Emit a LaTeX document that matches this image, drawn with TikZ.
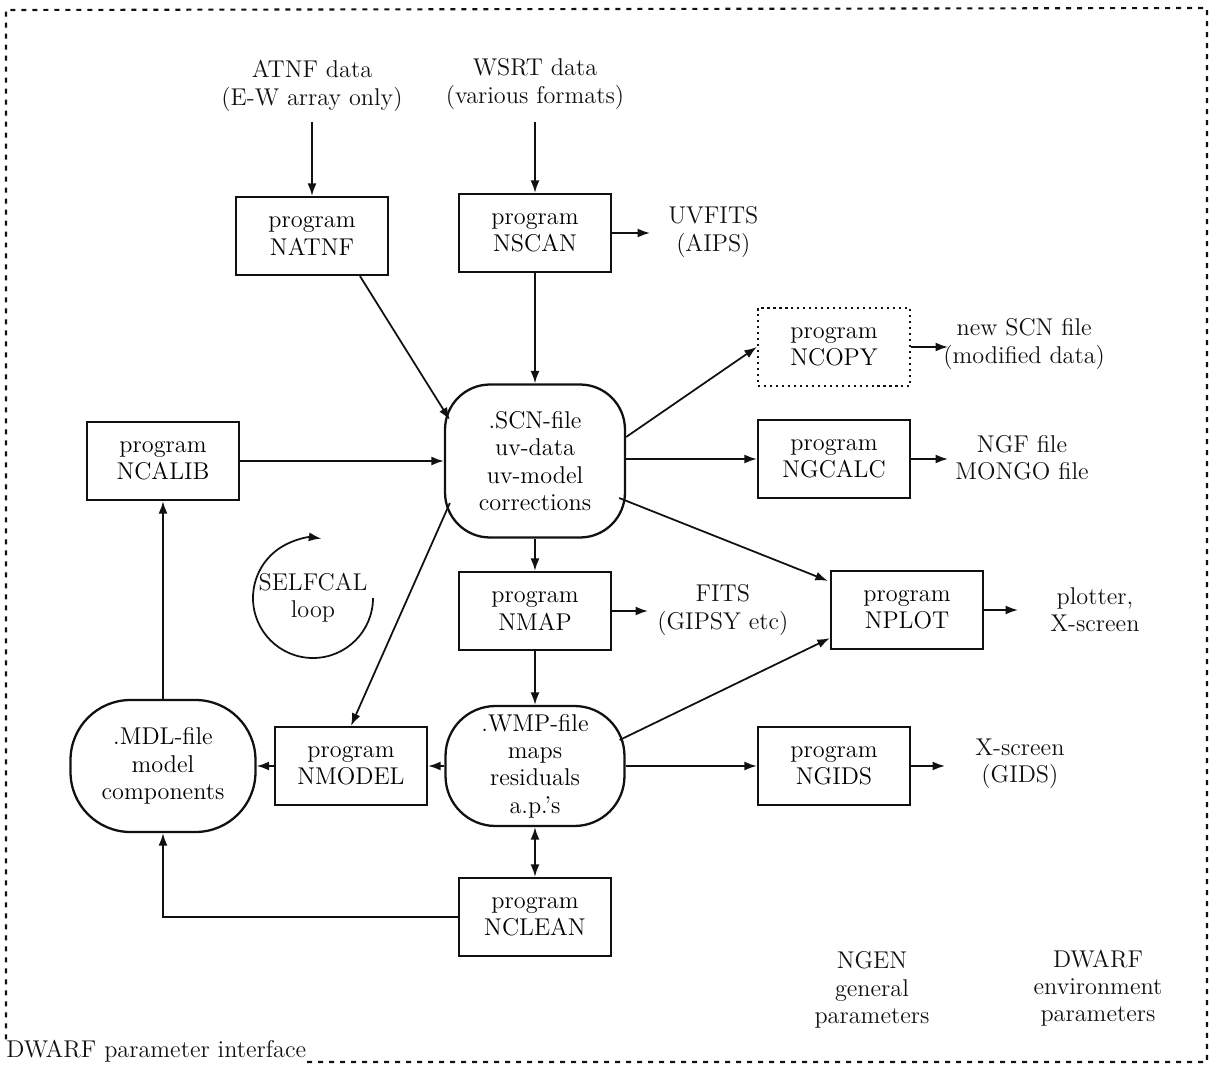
\documentclass[tikz,border=0pt]{standalone}
\usepackage{tikz}
\usetikzlibrary{arrows.meta,positioning,calc}
\definecolor{ink}{HTML}{111111}
\tikzset{
  prog/.style={draw=ink, line width=1.3pt, minimum width=3.04cm, minimum height=1.56cm,
               align=center, inner sep=2pt},
  dotprog/.style={prog, dash pattern=on 1.2pt off 2.2pt},
  datafile/.style={draw=ink, line width=1.3pt, align=center, inner sep=2pt},
  note/.style={align=center, inner sep=0pt, text=ink},
  flow/.style={-{Latex[length=2.5mm,width=1.8mm]}, line width=1pt, draw=ink},
  biflow/.style={flow, {Latex[length=2.5mm,width=1.8mm]}-{Latex[length=2.5mm,width=1.8mm]}},
  frame/.style={draw=ink, line width=1.2pt, dash pattern=on 1mm off 1.2mm}
}
\newcommand{\prg}[1]{program\\#1}

\begin{document}
\begin{tikzpicture}[x=0.02cm, y=-0.02cm, font=\fontsize{13.8}{15.5}\selectfont]
  \useasboundingbox (0,0) rectangle (1215,1068);

  \node[note] (atnf) at (312,86) {ATNF data\\(E-W array only)};
  \node[note] (wsrt) at (535,84) {WSRT data\\(various formats)};
  \node[prog] (natnf) at (312,236) {\prg{NATNF}};
  \node[prog] (nscan) at (535,233) {\prg{NSCAN}};
  \node[note, anchor=west] (uvfits) at (668,232) {UVFITS\\(AIPS)};

  \node[datafile, minimum width=3.6cm, minimum height=3.06cm, rounded corners=0.9cm]
    (scn) at (535,461) {.SCN-file\\uv-data\\uv-model\\corrections};
  \node[prog] (ncalib) at (163,461) {\prg{NCALIB}};
  \node[dotprog] (ncopy) at (834,347) {\prg{NCOPY}};
  \node[note, anchor=west] (newscn) at (943,344) {new SCN file\\(modified data)};
  \node[prog] (ngcalc) at (834,459) {\prg{NGCALC}};
  \node[note, anchor=west] (ngf) at (955,458) {NGF file\\MONGO file};

  \node[prog] (nmap) at (535,611) {\prg{NMAP}};
  \node[note, anchor=west] (fits) at (657,610) {FITS\\(GIPSY etc)};
  \node[prog] (nplot) at (907,610) {\prg{NPLOT}};
  \node[note, anchor=west] (plotter) at (1050,610) {plotter,\\X-screen};
  \node[note] (selfcal) at (313,598) {SELFCAL\\loop};

  \node[datafile, minimum width=3.7cm, minimum height=2.64cm, rounded corners=1.2cm]
    (mdl) at (163,766) {.MDL-file\\model\\components};
  \node[prog] (nmodel) at (351,766) {\prg{NMODEL}};
  \node[datafile, minimum width=3.58cm, minimum height=2.4cm, rounded corners=1.0cm]
    (wmp) at (535,766) {.WMP-file\\maps\\residuals\\a.p.'s};
  \node[prog] (ngids) at (834,766) {\prg{NGIDS}};
  \node[note, anchor=west] (xgids) at (975,764) {X-screen\\(GIDS)};
  \node[prog] (nclean) at (535,917) {\prg{NCLEAN}};

  \node[note] (ngen) at (872,990) {NGEN\\general\\parameters};
  \node[note] (dwarf) at (1098,988) {DWARF\\environment\\parameters};
  \node[note, anchor=base west] (iface) at (6,1057) {DWARF parameter interface};

  \coordinate (tl) at (6,10);
  \coordinate (tr) at (1207,8);
  \coordinate (br) at (1207,1062);
  \draw[frame] (iface.north west) -- (tl) -- (tr) -- (br) -- (br -| iface.east);

  \draw[flow, shorten <=0.2cm] (atnf.south) -- (natnf.north);
  \draw[flow, shorten <=0.24cm] (wsrt.south) -- (nscan.north);
  \draw[flow, shorten >=0.36cm] (nscan.east) -- (nscan.east -| uvfits.west);
  \draw[flow] (nscan) -- (scn);
  \draw[flow] ([xshift=0.96cm]natnf.south) -- ([shift={(6,-41)}]scn.west);
  \draw[flow] (ncalib) -- (scn);
  \draw[flow] ([yshift=0.48cm]scn.east) -- (ncopy.west);
  \draw[flow, shorten >=-0.1cm] (ncopy.east) -- (ncopy.east -| newscn.west);
  \draw[flow] (scn.east |- ngcalc.west) -- (ngcalc.west);
  \draw[flow, shorten >=0.14cm] (ngcalc.east) -- (ngcalc.east -| ngf.west);
  \draw[flow] ([shift={(-7,37)}]scn.east) -- ([shift={(-2,11)}]nplot.north west);
  \draw[flow] (scn) -- (nmap);
  \draw[flow, shorten >=0.18cm] (nmap.east) -- (nmap.east -| fits.west);
  \draw[flow, shorten >=0.64cm] (nplot.east) -- (nplot.east -| plotter.west);
  \draw[flow] (nmap) -- (wmp);
  \draw[flow] ([shift={(-6,-26)}]wmp.east) -- ([shift={(0,-12)}]nplot.south west);
  \draw[flow] (wmp) -- (ngids);
  \draw[flow, shorten >=0.6cm] (ngids.east) -- (ngids.east -| xgids.west);
  \draw[flow] (wmp) -- (nmodel);
  \draw[flow] (nmodel) -- (mdl);
  \draw[flow] ([shift={(6,42)}]scn.west) -- (nmodel.north);
  \draw[flow] (mdl) -- (ncalib);
  \draw[biflow] (wmp) -- (nclean);
  \draw[flow] (nclean.west) -| (mdl.south);

  \draw[flow] (selfcal.center) ++(60,0) arc[start angle=0, end angle=278, radius=60];
\end{tikzpicture}
\end{document}
